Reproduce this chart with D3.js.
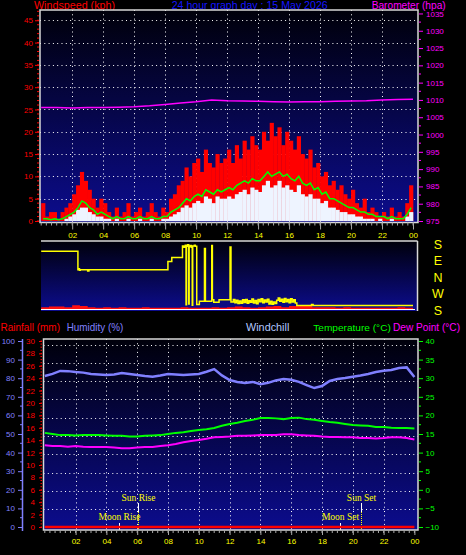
<!DOCTYPE html>
<html><head><meta charset="utf-8">
<script src="https://cdn.jsdelivr.net/npm/d3@7"></script>
<style>
html,body{margin:0;padding:0;background:#000;}
svg{display:block;}
</style></head><body>
<svg id="c" width="466" height="555"></svg>
<script>
// ---------------- DATA ----------------
const hourTicks = [2,4,6,8,10,12,14,16,18,20,22,24];
const hourTickLabels = ["02","04","06","08","10","12","14","16","18","20","22","00"];
const windTicks = [0,5,10,15,20,25,30,35,40,45];
const baroTicks = [975,980,985,990,995,1000,1005,1010,1015,1020,1025,1030,1035];
const compassLabels = ["S","E","N","W","S"];
const compassValues = [180,90,0,-90,-180];
const humidityTicks = [0,10,20,30,40,50,60,70,80,90,100];
const rainTicks = [0,2,4,6,8,10,12,14,16,18,20,22,24,26,28,30];
const tempTicks = [-10,-5,0,5,10,15,20,25,30,35,40];

// wind (kph), 15-minute samples from 00:00
const windGust = [4,1,2,2, 0.5,2,3,4, 6,8,11,9, 7,5,3,5, 4,2,1,3, 1,2,4,1, 2,3,1,2, 4,2,1,3,
  2,5,6,8, 9,12,10,13, 14,11,16,13, 12,15,13,14, 16,13,17,14, 18,16,19,17, 16,20,18,22,
  19,21,17,20, 18,16,19,15, 14,16,12,13, 10,11,8,9, 7,8,6,5, 7,4,3,5, 2,3,2,1, 2,1,3,1, 2,1,4,8];
const windAvg = [0.5,0.5,0.3,0.5, 0.3,0.5,1,1.5, 2,3,4.5,4, 3,2.5,1.5,2, 1.5,1,0.5,1, 0.5,0.5,1,0.5,
  0.5,1,0.5,0.5, 1,0.5,0.5,1, 1,2,2.5,3, 4,5,4.5,5.5, 6,5.5,7,6.5, 6,7,6.5,7, 7.5,7,8,8.5,
  9,8.5,9.5,9, 9,10,11,10, 10.5,11,10,10.5, 9.5,9,10,8.5, 8,8.5,7,7.5, 6,6.5,5,5, 4.5,4,3.5,3,
  3,2.5,2,2, 1.5,1.5,1,1, 1,0.5,1,0.5, 0.5,0.5,1.5,3];
const windSpeed = [0,0,0,0, 0,0,0.5,1, 1.5,2.5,3,3, 2,1.5,1,1, 0.5,0.5,0,0.5, 0,0,0.5,0,
  0,0.5,0,0, 0.5,0,0,0.5, 0.5,1,1.5,2, 3,3.5,3,4, 4.5,4,5.5,5, 4,5.5,5,5, 5.5,5,6,6.5,
  7,6,7.5,7, 6.5,8,9,7.5, 8,9,7.5,8, 7,6.5,8,6, 5.5,6,5,5, 4,4.5,3,3, 2.5,2,2,1.5,
  1.5,1,1,0.5, 0.5,0.5,0,0.5, 0,0,0.5,0, 0,0,1,2];
// barometer (hPa), hourly
const baro = [1007.8,1007.8,1007.7,1007.8,1007.8,1007.9,1008.0,1008.3,1008.7,1009.1,1009.5,1010.0,
  1009.8,1009.7,1009.6,1009.5,1009.4,1009.5,1009.5,1009.6,1009.7,1009.8,1010.0,1010.1,1010.2];

// wind direction (degrees) at given hours
const dirHours = [0,2.37,2.42,2.47,2.52,3.00,3.08,8.18,8.43,9.12,9.20,9.30,9.35,9.38,9.45,9.52,9.55,9.62,
  9.70,9.75,9.78,9.88,9.95,10.04,10.21,10.54,10.60,11.01,11.05,11.14,11.48,12.19,12.25,
  12.3,12.4,12.5,12.6,12.7,12.8,12.9,13.0,13.1,13.2,13.3,13.4,13.5,13.6,13.7,13.8,13.9,14.0,
  14.1,14.2,14.3,14.4,14.5,14.6,14.7,14.8,14.9,15.0,15.1,15.2,15.3,15.4,15.5,15.6,15.7,15.8,
  15.9,16.0,16.1,16.2,16.3,16.4,16.5,17.45,17.55,24];
const dirDeg = [143,42,48,40,42,36,42,87,109,172,165,176,212,170,178,215,168,175,
  165,209,172,176,170,213,231,158,231,175,238,225,238,167,226,
  226,240,222,236,218,232,220,238,224,240,219,233,225,243,221,235,217,240,
  228,244,222,237,226,242,215,230,214,226,218,236,248,230,242,225,246,228,
  240,222,244,226,238,221,207,213,207,207];
// small red trace at foot of direction panel, 30-minute samples
const dirPanelRed = [1.5,2,2,1.5, 3,2.5,1.5,1, 1.5,1,1.5,1, 1,1.5,1,1, 1,1,1.5,1, 1,1,1.5,1,
  1.5,2,1.5,1, 1.5,2,2.5,1.5, 2.5,3,2.5,1.5, 1.5,1.5,1,1.5, 1,1,1,1, 1,1,1.5,1];

// 30-minute samples, 00:00 .. 24:00
const humidity = [81.2,82.3,83.9,83.8,83.3,83,82.3,82,81.7,82,82.8,82.3,81.7,81.2,80.8,81.5,82.3,82,
  81.7,82,82.3,83.5,84.9,81.5,79,78,77.4,78,76.8,77.5,78.8,79.6,79.2,78,76.3,74.7,75.8,78.5,
  79.6,80.1,80.8,81.5,82.3,83.3,84,84.4,85.5,85.8,80.6];
const temperature = [15.3,15.0,14.7,14.7,14.6,14.7,14.7,14.7,14.6,14.5,14.5,14.3,14.3,14.5,14.6,14.7,
  15.0,15.3,15.5,15.8,16.1,16.3,16.6,17.2,17.7,18.0,18.5,18.8,19.3,19.3,19.2,19.0,19.3,19.4,
  19.0,18.8,18.5,18.2,18.0,17.7,17.4,17.3,17.2,16.9,16.9,16.7,16.6,16.6,16.5];
const dewPoint = [12.0,11.8,11.8,11.6,11.8,11.6,11.5,11.5,11.5,11.4,11.2,11.2,11.4,11.5,11.5,11.8,
  12.0,12.3,12.8,13.1,13.4,13.7,14.1,14.2,14.3,14.5,14.5,14.6,14.7,14.7,14.7,14.9,14.9,14.7,
  14.6,14.5,14.3,14.2,14.2,14.1,14.1,13.9,13.9,13.8,13.9,14.1,14.1,13.9,13.5];
// rainfall (mm), hourly
const rainfall = [0,0,0,0,0,0,0,0,0,0,0,0,0,0,0,0,0,0,0,0,0,0,0,0,0];

const eventNames = ["Moon Rise","Sun Rise","Moon Set","Sun Set"];
const eventHours = [4.81,6.02,19.16,20.53];
const eventKinds = ["moon","sun","moon","sun"];

// ---------------- DRAW ----------------
const FONT = "'Liberation Sans', Arial, sans-serif";
const svg = d3.select("#c");
svg.append("rect").attr("width",466).attr("height",555).attr("fill","#000");
const defs = svg.append("defs");
const grad = defs.append("linearGradient").attr("id","bg").attr("x1",0).attr("y1",0).attr("x2",0).attr("y2",1);
grad.append("stop").attr("offset","0%").attr("stop-color","#00000a");
grad.append("stop").attr("offset","100%").attr("stop-color","#0c0c8e");

function hdr(txt, x, y, len, color, size){
  svg.append("text").attr("x",x).attr("y",y).attr("fill",color)
    .attr("font-family",FONT).attr("font-size",size||11.5)
    .attr("textLength",len).attr("lengthAdjust","spacingAndGlyphs").text(txt);
}
function styleAxis(g, color, tickColor){
  g.select(".domain").remove();
  g.attr("font-family",FONT).attr("font-size",8);
  g.selectAll(".tick line").attr("stroke",tickColor||color);
  g.selectAll(".tick text").attr("fill",color);
}
function vMinor(vals, scale, x, len, color){
  svg.append("g").selectAll("line").data(vals).join("line")
    .attr("x1",x).attr("x2",x+len).attr("y1",d=>scale(d)).attr("y2",d=>scale(d))
    .attr("stroke",color).attr("stroke-width",1);
}
function hMinor(vals, scale, y, len, color){
  svg.append("g").selectAll("line").data(vals).join("line")
    .attr("x1",d=>scale(d)).attr("x2",d=>scale(d)).attr("y1",y).attr("y2",y+len)
    .attr("stroke",color).attr("stroke-width",1);
}
const crisp = v => Math.round(v)+0.5;

// ===== TOP PANEL =====
const P1 = {l:40, r:418, t:10, b:222.5};
const xTop = d3.scaleLinear().domain([0,24]).range([41.2,413]);
const yWind = d3.scaleLinear().domain([0,47.3]).range([221,10]);
const yBaro = d3.scaleLinear().domain([975,1036]).range([221,10]);

hdr("Windspeed (kph)",34,9,81,"#ff0000");
hdr("24 hour graph day : 15 May 2026",171.7,9,156,"#1515ff");
hdr("Barometer (hpa)",371.7,9,74,"#ff00ff");

svg.append("rect").attr("x",P1.l).attr("y",P1.t).attr("width",P1.r-P1.l).attr("height",P1.b-P1.t).attr("fill","url(#bg)");
const g1 = svg.append("g");
g1.selectAll(".hg").data(windTicks.filter(v=>v>0)).join("line")
  .attr("x1",P1.l).attr("x2",P1.r).attr("y1",d=>crisp(yWind(d))).attr("y2",d=>crisp(yWind(d)))
  .attr("stroke","#fff").attr("stroke-dasharray","1,3.3");
g1.selectAll(".vg").data(hourTicks.filter(h=>h<24)).join("line")
  .attr("y1",P1.t).attr("y2",P1.b).attr("x1",d=>crisp(xTop(d))).attr("x2",d=>crisp(xTop(d)))
  .attr("stroke","#fff").attr("stroke-dasharray","1,3.3");

const step15 = 24/windGust.length;
const bw = xTop(step15)-xTop(0);
g1.selectAll(".gust").data(windGust).join("rect")
  .attr("x",(d,i)=>xTop(i*step15)).attr("width",bw+0.3)
  .attr("y",d=>yWind(d)).attr("height",d=>yWind(0)-yWind(d)).attr("fill","#ff0000");
g1.selectAll(".spd").data(windSpeed).join("rect")
  .attr("x",(d,i)=>xTop(i*step15)).attr("width",bw+0.3)
  .attr("y",d=>yWind(d)).attr("height",d=>yWind(0)-yWind(d)).attr("fill","#eef4ff");
g1.append("path").datum(windAvg)
  .attr("d",d3.line().x((d,i)=>xTop(i*step15+step15/2)).y(d=>yWind(d)))
  .attr("fill","none").attr("stroke","#00ff00").attr("stroke-width",1.5);
g1.append("path").datum(baro)
  .attr("d",d3.line().x((d,i)=>xTop(i)).y(d=>yBaro(d)))
  .attr("fill","none").attr("stroke","#ff00ff").attr("stroke-width",1.5);
svg.append("rect").attr("x",P1.l).attr("y",P1.t).attr("width",P1.r-P1.l).attr("height",P1.b-P1.t)
  .attr("fill","none").attr("stroke","#d8d8d8").attr("stroke-width",1.5);

const axW = svg.append("g").attr("transform","translate(39,0)")
  .call(d3.axisLeft(yWind).tickValues(windTicks).tickSize(4).tickPadding(2));
styleAxis(axW,"#ff0000");
vMinor(d3.range(0,48,1),yWind,37,2,"#ff0000");
const axB = svg.append("g").attr("transform","translate(419,0)")
  .call(d3.axisRight(yBaro).tickValues(baroTicks).tickFormat(d3.format("d")).tickSize(4).tickPadding(3));
styleAxis(axB,"#ff00ff");
vMinor(d3.range(977.5,1036,5),yBaro,419,2,"#ff00ff");
const axXT = svg.append("g").attr("transform",`translate(0,${P1.b})`)
  .call(d3.axisBottom(xTop).tickValues(hourTicks).tickFormat((d,i)=>hourTickLabels[i]).tickSize(7).tickPadding(3));
styleAxis(axXT,"#ffff00","#a8a8a8");
hMinor(d3.range(0,24.01,1/3),xTop,P1.b,3,"#a8a8a8");

// ===== MIDDLE PANEL (direction) =====
const P2 = {l:41, r:417.5, t:241, b:311};
const yDir = d3.scaleLinear().domain([180,-180]).range([244.5,310.5]);
const yDirRed = d3.scaleLinear().domain([0,4]).range([309,304]);
const signed = d => d > 180 ? d-360 : d;
svg.append("rect").attr("x",P2.l).attr("y",P2.t).attr("width",P2.r-P2.l).attr("height",P2.b-P2.t).attr("fill","url(#bg)");
const g2 = svg.append("g");
const step30 = 24/dirPanelRed.length;
g2.append("path").datum(dirPanelRed.concat([dirPanelRed[dirPanelRed.length-1]]))
  .attr("d",d3.area().x((d,i)=>xTop(i*step30)).y0(yDirRed(0)).y1(d=>yDirRed(d)).curve(d3.curveStepAfter))
  .attr("fill","#ff1010");
g2.append("line").attr("x1",P2.l).attr("x2",415).attr("y1",309.5).attr("y2",309.5).attr("stroke","#ffffff").attr("stroke-width",1);
g2.append("path").datum(dirHours.map((h,i)=>({h,d:dirDeg[i]})))
  .attr("d",d3.line().x(d=>xTop(d.h)).y(d=>yDir(signed(d.d))).curve(d3.curveStepAfter))
  .attr("fill","none").attr("stroke","#ffff00").attr("stroke-width",1.5);
svg.append("line").attr("x1",P2.l).attr("x2",P2.r).attr("y1",P2.t).attr("y2",P2.t).attr("stroke","#d8d8d8").attr("stroke-width",1.5);
svg.append("line").attr("x1",P2.r).attr("x2",P2.r).attr("y1",P2.t).attr("y2",P2.b).attr("stroke","#d8d8d8").attr("stroke-width",1.5);
svg.append("g").selectAll("text").data(compassLabels).join("text")
  .attr("x",438).attr("y",(d,i)=>yDir(compassValues[i])+4.4).attr("text-anchor","middle")
  .attr("fill","#ffff00").attr("font-family",FONT).attr("font-size",12.5).text(d=>d);

// ===== BOTTOM PANEL =====
const P3 = {l:43.5, r:418, t:339, b:530};
const xBot = d3.scaleLinear().domain([0,24]).range([44.8,414.4]);
const yHum = d3.scaleLinear().domain([0,100]).range([527,341]);
const yRain = d3.scaleLinear().domain([0,30]).range([527,341]);
const yTemp = d3.scaleLinear().domain([-10,40]).range([527,341]);
const yGrid = d3.scaleLinear().domain([0,10]).range([527.3,344.7]);

hdr("Rainfall (mm)",0.5,331,59.5,"#ff0000",11);
hdr("Humidity (%)",66.7,331,56.6,"#8080ff",11);
hdr("Windchill",246,331,43.3,"#b4c8ff",11);
hdr("Temperature (°C)",313.3,331,77.5,"#00ff00",9.9);
hdr("Dew Point (°C)",393,331,67,"#ff00ff",10.1);

svg.append("rect").attr("x",P3.l).attr("y",P3.t).attr("width",P3.r-P3.l).attr("height",P3.b-P3.t).attr("fill","url(#bg)");
const g3 = svg.append("g");
g3.selectAll(".hg").data(d3.range(1,11)).join("line")
  .attr("x1",P3.l).attr("x2",P3.r).attr("y1",d=>crisp(yGrid(d))).attr("y2",d=>crisp(yGrid(d)))
  .attr("stroke","#fff").attr("stroke-dasharray","1,3.3");
g3.selectAll(".vg").data(hourTicks.filter(h=>h<24)).join("line")
  .attr("y1",P3.t).attr("y2",P3.b).attr("x1",d=>crisp(xBot(d))).attr("x2",d=>crisp(xBot(d)))
  .attr("stroke","#fff").attr("stroke-dasharray","1,3.3");

// sun / moon markers
eventNames.forEach((name,i)=>{
  const x = crisp(xBot(eventHours[i]));
  if(eventKinds[i]==="sun"){
    g3.append("line").attr("x1",x).attr("x2",x).attr("y1",503).attr("y2",512).attr("stroke","#fff").attr("stroke-width",1);
    g3.append("line").attr("x1",x).attr("x2",x).attr("y1",512).attr("y2",P3.b).attr("stroke","#ffff00").attr("stroke-dasharray","1,1");
    g3.append("text").attr("x",x).attr("y",500.7).attr("text-anchor","middle").attr("fill","#ffff00")
      .attr("font-family","'Liberation Serif', serif").attr("font-size",9.5).text(name);
  } else {
    g3.append("line").attr("x1",x).attr("x2",x).attr("y1",523).attr("y2",P3.b).attr("stroke","#fff").attr("stroke-width",1);
    g3.append("text").attr("x",x).attr("y",520).attr("text-anchor","middle").attr("fill","#ffff00")
      .attr("font-family","'Liberation Serif', serif").attr("font-size",9.5).text(name);
  }
});

const step30b = 24/(humidity.length-1);
g3.append("path").datum(rainfall)
  .attr("d",d3.line().x((d,i)=>xBot(i)).y(d=>yRain(d)))
  .attr("fill","none").attr("stroke","#ff0000").attr("stroke-width",2.5);
g3.append("path").datum(humidity)
  .attr("d",d3.line().x((d,i)=>xBot(i*step30b)).y(d=>yHum(d)))
  .attr("fill","none").attr("stroke","#8080ff").attr("stroke-width",2.5);
g3.append("path").datum(dewPoint)
  .attr("d",d3.line().x((d,i)=>xBot(i*step30b)).y(d=>yTemp(d)))
  .attr("fill","none").attr("stroke","#ff00ff").attr("stroke-width",2);
g3.append("path").datum(temperature)
  .attr("d",d3.line().x((d,i)=>xBot(i*step30b)).y(d=>yTemp(d)))
  .attr("fill","none").attr("stroke","#00ff00").attr("stroke-width",2);

svg.append("rect").attr("x",P3.l).attr("y",P3.t).attr("width",P3.r-P3.l).attr("height",P3.b-P3.t)
  .attr("fill","none").attr("stroke","#d8d8d8").attr("stroke-width",1.5);

// humidity axis
svg.append("line").attr("x1",22.5).attr("x2",22.5).attr("y1",339).attr("y2",531).attr("stroke","#8080ff").attr("stroke-width",1.5);
const axH = svg.append("g").attr("transform","translate(22,0)")
  .call(d3.axisLeft(yHum).tickValues(humidityTicks).tickSize(4).tickPadding(3));
styleAxis(axH,"#8080ff");
vMinor(d3.range(5,100,10),yHum,20,2,"#8080ff");
// rain axis
const axR = svg.append("g").attr("transform","translate(42,0)")
  .call(d3.axisLeft(yRain).tickValues(rainTicks).tickSize(3).tickPadding(4));
styleAxis(axR,"#ff0000");
vMinor(d3.range(0,30.01,0.5),yRain,40.5,1.5,"#ff0000");
// temperature axis
const axT = svg.append("g").attr("transform","translate(419,0)")
  .call(d3.axisRight(yTemp).tickValues(tempTicks).tickSize(4).tickPadding(2.5));
styleAxis(axT,"#00ff00");
vMinor(d3.range(-7.5,40,5),yTemp,419,2,"#00ff00");
// bottom x axis
const axXB = svg.append("g").attr("transform",`translate(0,${P3.b})`)
  .call(d3.axisBottom(xBot).tickValues(hourTicks).tickFormat((d,i)=>hourTickLabels[i]).tickSize(5).tickPadding(3.3));
styleAxis(axXB,"#ffff00","#a8a8a8");
hMinor(d3.range(0,24.01,1/3),xBot,P3.b,3,"#a8a8a8");
</script>
</body></html>
